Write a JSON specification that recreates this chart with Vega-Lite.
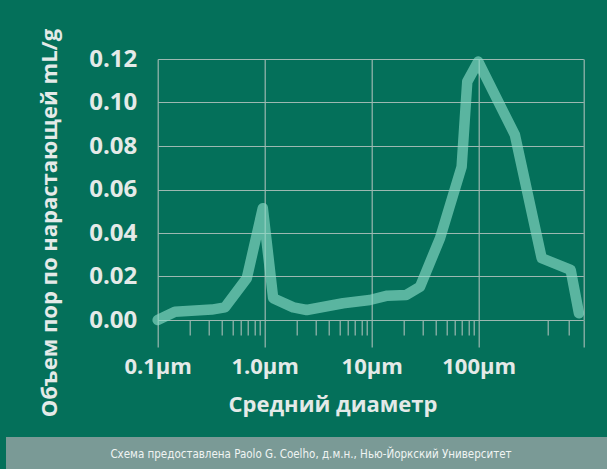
{
  "$schema": "https://vega.github.io/schema/vega-lite/v6.json",
  "background": "#04705a",
  "padding": {"left": 6, "top": 28, "right": 0, "bottom": 0},
  "config": {"view": {"stroke": null}, "font": "Open Sans"},
  "spacing": 117,
  "center": true,
  "bounds": "flush",
  "vconcat": [
    {
      "width": 425.6,
      "height": 261,
      "data": {
        "values": [
          {"d": 0.1, "v": 0.0},
          {"d": 0.145, "v": 0.0038},
          {"d": 0.32, "v": 0.0048},
          {"d": 0.425, "v": 0.0058},
          {"d": 0.68, "v": 0.0192},
          {"d": 0.96, "v": 0.0514},
          {"d": 1.2, "v": 0.01},
          {"d": 1.85, "v": 0.0058},
          {"d": 2.47, "v": 0.0046},
          {"d": 5.4, "v": 0.0077},
          {"d": 9.6, "v": 0.0092},
          {"d": 14, "v": 0.0112},
          {"d": 21, "v": 0.0115},
          {"d": 28.3, "v": 0.0153},
          {"d": 43.5, "v": 0.0376},
          {"d": 69.3, "v": 0.0705},
          {"d": 78.2, "v": 0.1096},
          {"d": 99, "v": 0.1188},
          {"d": 218, "v": 0.0851},
          {"d": 388, "v": 0.0284},
          {"d": 724, "v": 0.023},
          {"d": 865, "v": 0.0031}
        ]
      },
      "resolve": {"axis": {"x": "independent"}},
      "layer": [
        {
          "mark": {"type": "line", "color": "#8cdcc8", "opacity": 0.64, "strokeWidth": 10.5, "strokeCap": "round", "strokeJoin": "round"},
          "encoding": {
            "x": {
              "field": "d", "type": "quantitative",
              "scale": {"type": "log", "domain": [0.1, 950], "nice": false},
              "axis": {
                "orient": "bottom",
                "values": [0.1, 1, 10, 100, 950],
                "grid": true, "gridColor": "#9db8b1", "gridWidth": 1.2,
                "tickSize": 27, "tickColor": "#9db8b1", "tickWidth": 1.2,
                "domain": false,
                "labelExpr": "datum.value == 0.1 ? '0.1µm' : datum.value == 1 ? '1.0µm' : datum.value == 10 ? '10µm' : datum.value == 100 ? '100µm' : ''",
                "labelFont": "Open Sans", "labelFontWeight": "bold", "labelFontSize": 22,
                "labelColor": "#e4eae8", "labelBaseline": "alphabetic", "labelPadding": 26.3,
                "labelFlush": false, "labelOverlap": false,
                "title": "Средний диаметр", "titleFont": "Open Sans", "titleFontWeight": "bold",
                "titleFontSize": 22, "titleColor": "#e4eae8",
                "titleX": 174.8, "titleY": 91.7, "titleBaseline": "alphabetic", "titleAlign": "center"
              }
            },
            "y": {
              "field": "v", "type": "quantitative",
              "scale": {"domain": [0, 0.12], "nice": false},
              "axis": {
                "values": [0, 0.02, 0.04, 0.06, 0.08, 0.1, 0.12],
                "format": ".2f",
                "grid": true, "gridColor": "#9db8b1", "gridWidth": 1.2,
                "ticks": false, "domain": false,
                "labelPadding": 21, "labelFont": "Open Sans", "labelFontWeight": "bold",
                "labelFontSize": 24, "labelColor": "#e4eae8",
                "title": "Объем пор по нарастающей mL/g", "titleFont": "Open Sans",
                "titleFontWeight": "bold", "titleFontSize": 22, "titleColor": "#e4eae8",
                "titleX": -101, "titleY": 163.5, "titleBaseline": "alphabetic",
                "titleAngle": 270, "titleAlign": "center"
              }
            }
          }
        },
        {
          "mark": {"type": "point", "opacity": 0, "size": 1},
          "encoding": {
            "x": {
              "field": "d", "type": "quantitative",
              "axis": {
                "orient": "bottom",
                "values": [0.2, 0.3, 0.4, 0.5, 0.6, 0.7, 0.8, 0.9, 2, 3, 4, 5, 6, 7, 8, 9, 20, 30, 40, 50, 60, 70, 80, 90, 440, 700],
                "grid": false, "labels": false, "domain": false, "ticks": true,
                "tickSize": 15, "tickColor": "#9db8b1", "tickWidth": 1.2, "title": null
              }
            }
          }
        }
      ]
    },
    {
      "width": 729,
      "height": 32,
      "view": {"fill": "#7a9a96", "stroke": null},
      "data": {"values": [{"caption": "Схема предоставлена Paolo G. Coelho, д.м.н., Нью-Йоркский Университет"}]},
      "mark": {"type": "text", "font": "DejaVu Sans Condensed, Liberation Sans Narrow, Liberation Sans", "fontSize": 11.5, "color": "#f0f4f3", "baseline": "middle", "dy": 2, "dx": -59.5},
      "encoding": {"text": {"field": "caption", "type": "nominal"}}
    }
  ]
}
